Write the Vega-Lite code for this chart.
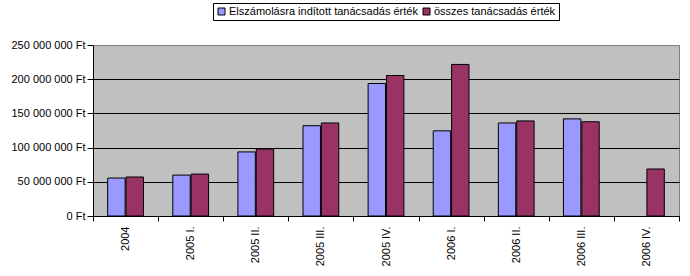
{
  "$schema": "https://vega.github.io/schema/vega-lite/v6.json",
  "width": 586,
  "height": 171,
  "autosize": {"type": "none"},
  "padding": {"left": 93, "top": 45, "right": 11, "bottom": 60},
  "background": "white",
  "config": {
    "font": "Liberation Sans",
    "view": {"fill": "#C0C0C0", "stroke": "#808080", "strokeWidth": 1}
  },
  "data": {
    "values": [
      {"period": "2004", "series": "Elszámolásra indított tanácsadás érték", "value": 55500000},
      {"period": "2004", "series": "összes tanácsadás érték", "value": 57000000},
      {"period": "2005 I.", "series": "Elszámolásra indított tanácsadás érték", "value": 59800000},
      {"period": "2005 I.", "series": "összes tanácsadás érték", "value": 61300000},
      {"period": "2005 II.", "series": "Elszámolásra indított tanácsadás érték", "value": 93700000},
      {"period": "2005 II.", "series": "összes tanácsadás érték", "value": 98000000},
      {"period": "2005 III.", "series": "Elszámolásra indított tanácsadás érték", "value": 132000000},
      {"period": "2005 III.", "series": "összes tanácsadás érték", "value": 136000000},
      {"period": "2005 IV.", "series": "Elszámolásra indított tanácsadás érték", "value": 193700000},
      {"period": "2005 IV.", "series": "összes tanácsadás érték", "value": 205400000},
      {"period": "2006 I.", "series": "Elszámolásra indított tanácsadás érték", "value": 124500000},
      {"period": "2006 I.", "series": "összes tanácsadás érték", "value": 221600000},
      {"period": "2006 II.", "series": "Elszámolásra indított tanácsadás érték", "value": 136000000},
      {"period": "2006 II.", "series": "összes tanácsadás érték", "value": 139000000},
      {"period": "2006 III.", "series": "Elszámolásra indított tanácsadás érték", "value": 142000000},
      {"period": "2006 III.", "series": "összes tanácsadás érték", "value": 137800000},
      {"period": "2006 IV.", "series": "összes tanácsadás érték", "value": 68700000}
    ]
  },
  "mark": {"type": "bar", "stroke": "black", "strokeWidth": 1},
  "encoding": {
    "x": {
      "field": "period",
      "type": "nominal",
      "sort": ["2004", "2005 I.", "2005 II.", "2005 III.", "2005 IV.", "2006 I.", "2006 II.", "2006 III.", "2006 IV."],
      "scale": {"paddingInner": 0, "paddingOuter": 0},
      "axis": {
        "title": null,
        "labelAngle": -90,
        "tickBand": "extent",
        "tickSize": 5,
        "labelPadding": 5,
        "labelFontSize": 11,
        "labelColor": "black",
        "tickColor": "black",
        "domainColor": "black",
        "grid": false
      }
    },
    "xOffset": {
      "field": "series",
      "type": "nominal",
      "sort": ["Elszámolásra indított tanácsadás érték", "összes tanácsadás érték"],
      "scale": {"paddingInner": 0.05, "paddingOuter": 0.8}
    },
    "y": {
      "field": "value",
      "type": "quantitative",
      "scale": {"domain": [0, 250000000]},
      "axis": {
        "title": null,
        "values": [0, 50000000, 100000000, 150000000, 200000000, 250000000],
        "labelExpr": "replace(format(datum.value, ',d'), /,/g, ' ') + ' Ft'",
        "grid": true,
        "gridColor": {"condition": {"test": "datum.value >= 250000000", "value": "#808080"}, "value": "black"},
        "gridOpacity": 1,
        "tickColor": "black",
        "domainColor": "black",
        "labelColor": "black",
        "labelFontSize": 11,
        "tickSize": 6,
        "labelPadding": 2
      }
    },
    "color": {
      "field": "series",
      "type": "nominal",
      "scale": {
        "domain": ["Elszámolásra indított tanácsadás érték", "összes tanácsadás érték"],
        "range": ["#9999FF", "#993366"]
      },
      "legend": {
        "orient": "none",
        "legendX": 120,
        "legendY": -42,
        "direction": "horizontal",
        "title": null,
        "strokeColor": "black",
        "fillColor": "white",
        "padding": 3,
        "symbolType": "square",
        "symbolSize": 49,
        "symbolStrokeColor": "black",
        "symbolStrokeWidth": 1,
        "symbolOpacity": 1,
        "labelFont": "Liberation Sans",
        "labelFontSize": 11,
        "labelLimit": 400,
        "labelColor": "black",
        "labelOffset": 2,
        "columnPadding": 3
      }
    }
  }
}
